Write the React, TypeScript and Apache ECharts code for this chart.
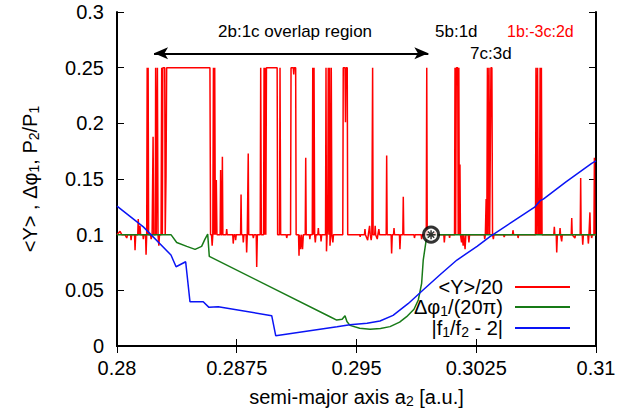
import React, { useEffect, useRef } from 'react';
import * as echarts from 'echarts';

// axis ranges / ticks
const X_MIN = 0.28;
const X_MAX = 0.31;
const X_STEP = 0.0075;
const Y_MIN = 0;
const Y_MAX = 0.3;
const Y_STEP = 0.05;

// series names and legend labels
const seriesNames = ['<Y>/20', 'Δφ1/(20π)', '|f1/f2 - 2|'];
const legendLabels: Record<string, string> = {
  '<Y>/20': '{n|<Y>/20}',
  'Δφ1/(20π)': '{n|Δφ}{s|1}{n|/(20π)}',
  '|f1/f2 - 2|': '{n||f}{s|1}{n|/f}{s|2}{n| - 2|}',
};

// <Y>/20 (red)
const yMeanData: [number, number][] = [
  [0.28000, 0.100], [0.28006, 0.101], [0.28019, 0.103], [0.28030, 0.100], [0.28050, 0.100],
  [0.28061, 0.097], [0.28066, 0.100], [0.28085, 0.100], [0.28088, 0.095], [0.28092, 0.100],
  [0.28110, 0.100], [0.28113, 0.086], [0.28117, 0.100], [0.28130, 0.100], [0.28133, 0.114],
  [0.28137, 0.100], [0.28141, 0.100], [0.28144, 0.108], [0.28148, 0.100], [0.28162, 0.100],
  [0.28165, 0.096], [0.28169, 0.100], [0.28179, 0.100], [0.28182, 0.082], [0.28186, 0.100],
  [0.28189, 0.250], [0.28193, 0.100], [0.28195, 0.250], [0.28198, 0.100], [0.28210, 0.100],
  [0.28214, 0.096], [0.28220, 0.100], [0.28226, 0.188], [0.28230, 0.100], [0.28240, 0.100],
  [0.28242, 0.250], [0.28246, 0.100], [0.28253, 0.250], [0.28257, 0.100], [0.28262, 0.090],
  [0.28266, 0.100], [0.28276, 0.100], [0.28280, 0.250], [0.28284, 0.100], [0.28287, 0.250],
  [0.28299, 0.250], [0.28302, 0.100], [0.28307, 0.152], [0.28311, 0.250], [0.28582, 0.250],
  [0.28586, 0.100], [0.28592, 0.100], [0.28596, 0.090], [0.28600, 0.100], [0.28604, 0.250],
  [0.28608, 0.100], [0.28612, 0.250], [0.28616, 0.100], [0.28622, 0.149], [0.28626, 0.100],
  [0.28646, 0.100], [0.28649, 0.158], [0.28652, 0.100], [0.28657, 0.100], [0.28660, 0.170],
  [0.28663, 0.100], [0.28684, 0.100], [0.28687, 0.105], [0.28690, 0.100], [0.28725, 0.100],
  [0.28728, 0.092], [0.28732, 0.100], [0.28740, 0.100], [0.28743, 0.095], [0.28747, 0.100],
  [0.28774, 0.100], [0.28777, 0.136], [0.28780, 0.100], [0.28788, 0.100], [0.28791, 0.093],
  [0.28795, 0.100], [0.28809, 0.100], [0.28812, 0.084], [0.28816, 0.100], [0.28819, 0.100],
  [0.28822, 0.173], [0.28825, 0.100], [0.28850, 0.100], [0.28854, 0.097], [0.28858, 0.100],
  [0.28872, 0.100], [0.28875, 0.071], [0.28879, 0.100], [0.28897, 0.100], [0.28900, 0.250],
  [0.28904, 0.100], [0.28918, 0.100], [0.28921, 0.250], [0.28925, 0.100], [0.28928, 0.250],
  [0.28932, 0.100], [0.28936, 0.250], [0.29003, 0.250], [0.29006, 0.100], [0.29018, 0.100],
  [0.29021, 0.250], [0.29025, 0.100], [0.29060, 0.100], [0.29063, 0.097], [0.29067, 0.100],
  [0.29087, 0.100], [0.29090, 0.250], [0.29104, 0.250], [0.29107, 0.244], [0.29110, 0.250],
  [0.29119, 0.250], [0.29122, 0.100], [0.29137, 0.100], [0.29140, 0.081], [0.29143, 0.100],
  [0.29150, 0.087], [0.29155, 0.100], [0.29162, 0.087], [0.29167, 0.100], [0.29179, 0.100],
  [0.29182, 0.169], [0.29185, 0.100], [0.29205, 0.100], [0.29208, 0.096], [0.29211, 0.100],
  [0.29223, 0.100], [0.29226, 0.250], [0.29230, 0.100], [0.29234, 0.250], [0.29238, 0.100],
  [0.29242, 0.093], [0.29246, 0.100], [0.29258, 0.100], [0.29261, 0.106], [0.29264, 0.100],
  [0.29275, 0.100], [0.29278, 0.094], [0.29282, 0.100], [0.29306, 0.100], [0.29309, 0.250],
  [0.29312, 0.085], [0.29316, 0.100], [0.29320, 0.110], [0.29323, 0.250], [0.29327, 0.100],
  [0.29331, 0.250], [0.29334, 0.090], [0.29338, 0.100], [0.29342, 0.250], [0.29346, 0.100],
  [0.29352, 0.093], [0.29356, 0.100], [0.29414, 0.100], [0.29417, 0.250], [0.29428, 0.250],
  [0.29431, 0.201], [0.29434, 0.250], [0.29442, 0.250], [0.29445, 0.100], [0.29520, 0.100],
  [0.29523, 0.098], [0.29526, 0.100], [0.29550, 0.100], [0.29553, 0.105], [0.29556, 0.100],
  [0.29570, 0.095], [0.29574, 0.100], [0.29582, 0.108], [0.29586, 0.100], [0.29592, 0.095],
  [0.29596, 0.100], [0.29598, 0.100], [0.29601, 0.250], [0.29604, 0.100], [0.29614, 0.100],
  [0.29617, 0.108], [0.29620, 0.100], [0.29630, 0.096], [0.29634, 0.100], [0.29640, 0.105],
  [0.29644, 0.100], [0.29686, 0.100], [0.29689, 0.171], [0.29692, 0.100], [0.29717, 0.100],
  [0.29720, 0.083], [0.29724, 0.100], [0.29732, 0.100], [0.29735, 0.106], [0.29738, 0.100],
  [0.29769, 0.100], [0.29772, 0.087], [0.29776, 0.100], [0.29790, 0.100], [0.29793, 0.134],
  [0.29796, 0.100], [0.29860, 0.100], [0.29863, 0.097], [0.29867, 0.100], [0.29905, 0.100],
  [0.29908, 0.096], [0.29912, 0.100], [0.29937, 0.100], [0.29940, 0.250], [0.29943, 0.100],
  [0.29990, 0.100], [0.29993, 0.102], [0.29996, 0.100], [0.30047, 0.100], [0.30050, 0.093],
  [0.30054, 0.100], [0.30080, 0.100], [0.30083, 0.097], [0.30086, 0.100], [0.30114, 0.100],
  [0.30117, 0.250], [0.30121, 0.100], [0.30125, 0.250], [0.30134, 0.250], [0.30137, 0.100],
  [0.30141, 0.250], [0.30144, 0.100], [0.30148, 0.163], [0.30151, 0.100], [0.30158, 0.093],
  [0.30162, 0.100], [0.30168, 0.090], [0.30172, 0.100], [0.30180, 0.087], [0.30185, 0.100],
  [0.30200, 0.100], [0.30204, 0.093], [0.30208, 0.100], [0.30300, 0.100], [0.30303, 0.096],
  [0.30307, 0.100], [0.30312, 0.132], [0.30316, 0.100], [0.30320, 0.250], [0.30324, 0.100],
  [0.30330, 0.250], [0.30334, 0.100], [0.30342, 0.250], [0.30348, 0.250], [0.30352, 0.100],
  [0.30357, 0.096], [0.30361, 0.100], [0.30420, 0.100], [0.30425, 0.098], [0.30430, 0.100],
  [0.30477, 0.100], [0.30480, 0.104], [0.30484, 0.100], [0.30509, 0.100], [0.30512, 0.097],
  [0.30516, 0.100], [0.30621, 0.100], [0.30624, 0.250], [0.30628, 0.100], [0.30634, 0.250],
  [0.30638, 0.100], [0.30642, 0.135], [0.30645, 0.100], [0.30650, 0.250], [0.30654, 0.100],
  [0.30658, 0.250], [0.30662, 0.100], [0.30736, 0.100], [0.30739, 0.107], [0.30742, 0.100],
  [0.30751, 0.100], [0.30754, 0.084], [0.30758, 0.100], [0.30772, 0.100], [0.30775, 0.106],
  [0.30778, 0.100], [0.30785, 0.094], [0.30789, 0.100], [0.30845, 0.100], [0.30848, 0.115],
  [0.30851, 0.100], [0.30868, 0.097], [0.30872, 0.100], [0.30901, 0.100], [0.30904, 0.151],
  [0.30907, 0.100], [0.30914, 0.100], [0.30917, 0.091], [0.30921, 0.100], [0.30949, 0.100],
  [0.30952, 0.092], [0.30956, 0.100], [0.30959, 0.100], [0.30962, 0.120], [0.30965, 0.100],
  [0.30970, 0.100], [0.30973, 0.097], [0.30977, 0.100], [0.30987, 0.100], [0.30990, 0.169],
  [0.30993, 0.100], [0.31000, 0.100],
];

// Δφ1/(20π) (green)
const dPhiData: [number, number][] = [
  [0.28000, 0.1000], [0.28338, 0.1000], [0.28374, 0.0930], [0.28437, 0.0895], [0.28489, 0.0868],
  [0.28530, 0.0895], [0.28551, 0.0960], [0.28568, 0.1005], [0.28578, 0.0805], [0.29334, 0.0263],
  [0.29376, 0.0233], [0.29410, 0.0240], [0.29428, 0.0272], [0.29440, 0.0220], [0.29459, 0.0185],
  [0.29520, 0.0160], [0.29585, 0.0150], [0.29650, 0.0158], [0.29710, 0.0174], [0.29770, 0.0215],
  [0.29814, 0.0263], [0.29860, 0.0330], [0.29887, 0.0413], [0.29908, 0.0563], [0.29918, 0.0772],
  [0.29935, 0.0937], [0.29950, 0.1006], [0.29967, 0.1000], [0.31000, 0.1000],
];

// |f1/f2 - 2| (blue)
const freqData: [number, number][] = [
  [0.28000, 0.1257], [0.28165, 0.1070], [0.28338, 0.0817], [0.28370, 0.0712], [0.28430, 0.0757],
  [0.28457, 0.0398], [0.28540, 0.0398], [0.28576, 0.0347], [0.28634, 0.0353], [0.28969, 0.0272],
  [0.28994, 0.0093], [0.29378, 0.0172], [0.29459, 0.0190], [0.29566, 0.0205], [0.29647, 0.0225],
  [0.29729, 0.0275], [0.29823, 0.0380], [0.29917, 0.0503], [0.30023, 0.0640], [0.30129, 0.0772],
  [0.30255, 0.0895], [0.30336, 0.0982], [0.30480, 0.1120], [0.30618, 0.1250], [0.30650, 0.1305],
  [0.30670, 0.1320], [0.30812, 0.1475], [0.30973, 0.1640], [0.31000, 0.1662],
];

const markerPoint: [number, number][] = [[0.29967, 0.1]];
const arrowEnds: [number, number][] = [[0.28232, 0.2629], [0.2995, 0.2629]];
const annotationTexts = ['2b:1c overlap region', '5b:1d', '7c:3d', '1b:-3c:2d'];

const FONT = '"Liberation Sans", Arial, Helvetica, sans-serif';
const RED = '#ff0000';
const GREEN = '#177a17';
const BLUE = '#0a14f5';

const richBase = {
  n: { fontSize: 20, lineHeight: 22, color: '#000', fontFamily: FONT },
  s: { fontSize: 14, lineHeight: 4, color: '#000', fontFamily: FONT, verticalAlign: 'bottom' },
};

export default function App() {
  const ref = useRef<HTMLDivElement>(null);
  useEffect(() => {
    if (!ref.current) return;
    const chart = echarts.init(ref.current, null, { renderer: 'svg' });
    const tickStyle = { show: true, inside: true, length: 7, lineStyle: { color: '#000', width: 1 } };
    const lineAxis = { show: true, lineStyle: { color: '#000', width: 2 } };
    const option: any = {
      animation: false,
      backgroundColor: '#fff',
      textStyle: { fontFamily: FONT },
      grid: { left: 117, right: 21, top: 12, bottom: 69, outerBoundsMode: 'none' },
      xAxis: [
        {
          type: 'value', min: X_MIN, max: X_MAX, interval: X_STEP, position: 'bottom',
          axisLine: lineAxis, axisTick: tickStyle, splitLine: { show: false },
          axisLabel: { fontSize: 20, color: '#000', margin: 12, fontFamily: FONT },
          name: '{n|semi-major axis a}{s|2}{n| [a.u.]}', nameLocation: 'middle', nameGap: 40,
          nameMoveOverlap: false,
          nameTextStyle: { rich: richBase },
        },
        {
          type: 'value', min: X_MIN, max: X_MAX, interval: X_STEP, position: 'top',
          axisLine: lineAxis, axisTick: tickStyle, splitLine: { show: false },
          axisLabel: { show: false },
        },
      ],
      yAxis: [
        {
          type: 'value', min: Y_MIN, max: Y_MAX, interval: Y_STEP, position: 'left',
          axisLine: lineAxis, axisTick: tickStyle, splitLine: { show: false },
          axisLabel: { fontSize: 20, color: '#000', margin: 13, fontFamily: FONT },
          name: '{n|<Y> , Δφ}{s|1}{n|, P}{s|2}{n|/P}{s|1}', nameLocation: 'middle', nameGap: 76,
          nameRotate: 90, nameMoveOverlap: false,
          nameTextStyle: { rich: richBase },
        },
        {
          type: 'value', min: Y_MIN, max: Y_MAX, interval: Y_STEP, position: 'right',
          axisLine: lineAxis, axisTick: tickStyle, splitLine: { show: false },
          axisLabel: { show: false },
        },
      ],
      legend: {
        data: seriesNames,
        orient: 'vertical',
        align: 'right',
        right: 47,
        top: 277,
        icon: 'rect',
        itemWidth: 55,
        itemHeight: 2,
        itemGap: 0,
        padding: 0,
        selectedMode: false,
        formatter: (name: string) => legendLabels[name] || name,
        textStyle: { rich: richBase, padding: [0, 7, 0, 0] },
      },
      graphic: [
        { type: 'text', x: 218, y: 31.5, silent: true,
          style: { text: annotationTexts[0], fontSize: 17, fontFamily: FONT, fill: '#000', verticalAlign: 'middle' } },
        { type: 'text', x: 435, y: 31.5, silent: true,
          style: { text: annotationTexts[1], fontSize: 17, fontFamily: FONT, fill: '#000', verticalAlign: 'middle' } },
        { type: 'text', x: 470, y: 53, silent: true,
          style: { text: annotationTexts[2], fontSize: 17, fontFamily: FONT, fill: '#000', verticalAlign: 'middle' } },
        { type: 'text', x: 507, y: 31.5, silent: true,
          style: { text: annotationTexts[3], fontSize: 16, fontFamily: FONT, fill: RED, verticalAlign: 'middle' } },
      ],
      series: [
        {
          name: seriesNames[0], type: 'line', data: yMeanData, symbol: 'none', showSymbol: false,
          lineStyle: { color: RED, width: 1.5 }, itemStyle: { color: RED },
          silent: true, z: 2,
        },
        {
          name: seriesNames[1], type: 'line', data: dPhiData, symbol: 'none', showSymbol: false,
          lineStyle: { color: GREEN, width: 1.5 }, itemStyle: { color: GREEN }, silent: true, z: 3,
        },
        {
          name: seriesNames[2], type: 'line', data: freqData, symbol: 'none', showSymbol: false,
          lineStyle: { color: BLUE, width: 1.5 }, itemStyle: { color: BLUE }, silent: true, z: 4,
          markLine: {
            silent: true,
            symbol: ['arrow', 'arrow'],
            symbolSize: [9, 14],
            label: { show: false },
            lineStyle: { color: '#000', width: 2, type: 'solid' },
            emphasis: { disabled: true },
            data: [[{ coord: arrowEnds[0] }, { coord: arrowEnds[1] }]],
          },
        },
        {
          name: 'marker', type: 'scatter', data: markerPoint, symbol: 'circle', symbolSize: 15,
          itemStyle: { color: '#fff', borderColor: '#000', borderWidth: 3 }, silent: true, z: 6,
        },
        {
          name: 'marker2', type: 'scatter', data: markerPoint,
          symbol: 'path://M5 0L5 10M0 5L10 5M1.5 1.5L8.5 8.5M1.5 8.5L8.5 1.5', symbolSize: 9,
          itemStyle: { color: 'none', borderColor: '#000', borderWidth: 1.5 }, silent: true, z: 7,
        },
      ],
    };
    chart.setOption(option);
    return () => chart.dispose();
  }, []);
  return (
    <div
      ref={ref}
      style={{ position: 'fixed', left: 0, top: 0, width: 617, height: 415, background: '#fff' }}
    />
  );
}
